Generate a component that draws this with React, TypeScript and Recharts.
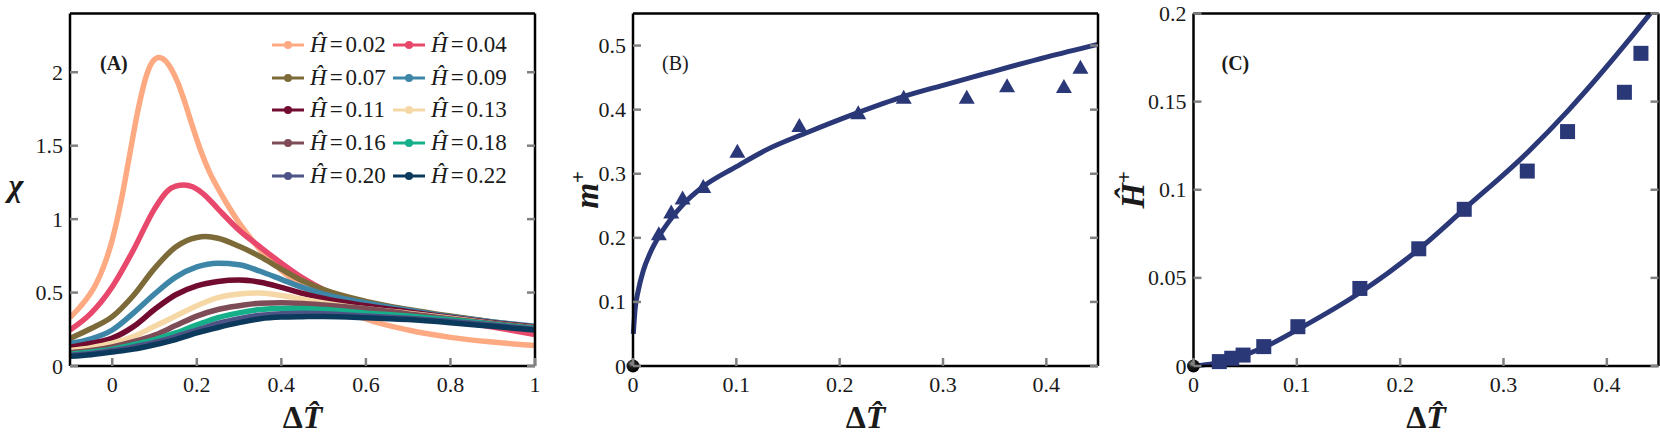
import React from 'react';
import { LineChart, ComposedChart, Line, Scatter, XAxis, YAxis, Legend, Label } from 'recharts';

const FONT = '"Liberation Serif","Times New Roman",serif';
const INK = '#1a1a1a';
const TICKC = '#808080';
const NAVY = '#2b3878';

// ---------- Panel A : chi vs dT for several H ----------
const hLabels = ['0.02', '0.04', '0.07', '0.09', '0.11', '0.13', '0.16', '0.18', '0.20', '0.22'];
const hColors = ['#fdaa83', '#e8486b', '#7c6a38', '#3d86a8', '#710b30', '#f5d8a6', '#7d4c56', '#15b08a', '#4d5485', '#0c3a5d'];

const dT02 = [-0.1, -0.08, -0.06, -0.04, -0.02, 0, 0.02, 0.04, 0.06, 0.08, 0.095, 0.11, 0.125, 0.14, 0.155, 0.17, 0.19, 0.21, 0.23, 0.25, 0.27, 0.3, 0.33, 0.36, 0.4, 0.45, 0.5, 0.55, 0.6, 0.7, 0.8, 0.9, 1.0];
const chi02 = [0.33, 0.39, 0.46, 0.55, 0.68, 0.86, 1.11, 1.42, 1.73, 1.97, 2.07, 2.1, 2.08, 2.02, 1.93, 1.81, 1.63, 1.46, 1.32, 1.21, 1.11, 0.975, 0.86, 0.76, 0.65, 0.54, 0.45, 0.38, 0.32, 0.245, 0.195, 0.163, 0.14];
const dT04 = [-0.1, -0.05, 0, 0.05, 0.1, 0.13, 0.15, 0.17, 0.19, 0.22, 0.25, 0.3, 0.35, 0.4, 0.45, 0.5, 0.6, 0.7, 0.8, 0.9, 1.0];
const chi04 = [0.245, 0.36, 0.54, 0.79, 1.07, 1.19, 1.225, 1.233, 1.22, 1.16, 1.07, 0.925, 0.81, 0.7, 0.6, 0.52, 0.42, 0.365, 0.315, 0.265, 0.215];
const dT07 = [-0.1, -0.05, 0, 0.05, 0.1, 0.15, 0.2, 0.22, 0.25, 0.3, 0.35, 0.4, 0.45, 0.5, 0.6, 0.7, 0.8, 0.9, 1.0];
const chi07 = [0.188, 0.255, 0.336, 0.48, 0.665, 0.81, 0.875, 0.881, 0.87, 0.815, 0.745, 0.66, 0.58, 0.52, 0.44, 0.385, 0.34, 0.3, 0.265];
const dTGrid = [-0.1, -0.05, 0, 0.05, 0.1, 0.15, 0.2, 0.25, 0.3, 0.35, 0.4, 0.45, 0.5, 0.6, 0.7, 0.8, 0.9, 1.0];
const chi09 = [0.154, 0.185, 0.245, 0.36, 0.49, 0.605, 0.675, 0.7, 0.69, 0.645, 0.59, 0.535, 0.49, 0.43, 0.38, 0.335, 0.3, 0.27];
const chi11 = [0.127, 0.155, 0.19, 0.268, 0.385, 0.485, 0.545, 0.575, 0.585, 0.57, 0.535, 0.495, 0.46, 0.41, 0.37, 0.33, 0.295, 0.265];
const chi13 = [0.105, 0.125, 0.155, 0.2, 0.27, 0.34, 0.41, 0.465, 0.49, 0.497, 0.48, 0.455, 0.43, 0.39, 0.36, 0.325, 0.29, 0.26];
const chi16 = [0.09, 0.105, 0.13, 0.165, 0.21, 0.275, 0.34, 0.385, 0.41, 0.428, 0.43, 0.425, 0.415, 0.39, 0.355, 0.32, 0.29, 0.26];
const chi18 = [0.08, 0.095, 0.115, 0.145, 0.18, 0.225, 0.28, 0.33, 0.362, 0.384, 0.392, 0.392, 0.385, 0.36, 0.34, 0.315, 0.285, 0.255];
const chi20 = [0.073, 0.085, 0.105, 0.13, 0.16, 0.2, 0.245, 0.29, 0.322, 0.345, 0.355, 0.36, 0.355, 0.34, 0.325, 0.305, 0.28, 0.25];
const chi22 = [0.066, 0.077, 0.095, 0.115, 0.145, 0.18, 0.225, 0.262, 0.295, 0.322, 0.333, 0.336, 0.337, 0.329, 0.316, 0.295, 0.27, 0.245];

const xTicksA = [0, 0.2, 0.4, 0.6, 0.8, 1];
const yTicksA = [0, 0.5, 1, 1.5, 2];

// ---------- Panel B : m+ ----------
const bLineX = [0.0003, 0.002, 0.005, 0.01, 0.0165, 0.025, 0.036, 0.049, 0.068, 0.1, 0.13, 0.168, 0.217, 0.261, 0.3, 0.336, 0.4, 0.45];
const bLineY = [0.05, 0.088, 0.117, 0.149, 0.176, 0.202, 0.228, 0.253, 0.28, 0.311, 0.338, 0.364, 0.395, 0.42, 0.438, 0.454, 0.482, 0.502];
const simX = [0.025, 0.037, 0.048, 0.068, 0.101, 0.161, 0.218, 0.262, 0.323, 0.362, 0.417, 0.433];
const bTriY = [0.207, 0.241, 0.263, 0.281, 0.336, 0.376, 0.396, 0.42, 0.42, 0.438, 0.437, 0.467];
const xTicksBC = [0, 0.1, 0.2, 0.3, 0.4];
const yTicksB = [0, 0.1, 0.2, 0.3, 0.4, 0.5];

// ---------- Panel C : H+ ----------
const cLineX = [0, 0.02, 0.04, 0.068, 0.103, 0.162, 0.219, 0.262, 0.324, 0.363, 0.4186, 0.442];
const cLineY = [0, 0.0015, 0.0045, 0.0105, 0.0214, 0.042, 0.0667, 0.089, 0.1216, 0.1452, 0.183, 0.2];
const cSqY = [0.0025, 0.0044, 0.0062, 0.011, 0.0223, 0.044, 0.0665, 0.0889, 0.1106, 0.133, 0.1553, 0.1774];
const yTicksC = [0, 0.05, 0.1, 0.15, 0.2];

const originX = [0];
const originY = [0];

type Pt = { x: number; y: number };
const zip = (xs: number[], ys: number[]): Pt[] => xs.map((x, i) => ({ x, y: ys[i] }));

const chiX = [dT02, dT04, dT07, dTGrid, dTGrid, dTGrid, dTGrid, dTGrid, dTGrid, dTGrid];
const chiY = [chi02, chi04, chi07, chi09, chi11, chi13, chi16, chi18, chi20, chi22];
const seriesA = hLabels.map((h, i) => ({ h, color: hColors[i], data: zip(chiX[i], chiY[i]) }));

const fmt = (v: number) => String(v);
const TL = 8;

const BottomTick = (props: any) => {
  const { x, y, payload } = props;
  return (
    <g>
      <line x1={x} x2={x} y1={y} y2={y - TL} stroke={TICKC} strokeWidth={2.5} />
      <text x={x} y={y + 26} textAnchor="middle" fontFamily={FONT} fontSize={22} fill={INK}>{fmt(payload.value)}</text>
    </g>
  );
};
const TopTick = (props: any) => {
  const { x, y } = props;
  return <line x1={x} x2={x} y1={y} y2={y + TL} stroke={TICKC} strokeWidth={2.5} />;
};
const LeftTick = (props: any) => {
  const { x, y, payload } = props;
  return (
    <g>
      <line x1={x} x2={x + TL} y1={y} y2={y} stroke={TICKC} strokeWidth={2.5} />
      <text x={x - 7} y={y + 7.5} textAnchor="end" fontFamily={FONT} fontSize={22} fill={INK}>{fmt(payload.value)}</text>
    </g>
  );
};
const RightTick = (props: any) => {
  const { x, y } = props;
  return <line x1={x} x2={x - TL} y1={y} y2={y} stroke={TICKC} strokeWidth={2.5} />;
};

const XTitle = (props: any) => {
  const vb = props.viewBox;
  return (
    <text x={vb.x + vb.width / 2} y={vb.y + 62} textAnchor="middle" fontFamily={FONT} fontSize={32} fontWeight="bold" fill={INK}>
      <tspan>Δ</tspan><tspan fontStyle="italic">T̂</tspan>
    </text>
  );
};

const ChiTitle = (props: any) => {
  const vb = props.viewBox;
  const tx = vb.x + vb.width - 54;
  const ty = vb.y + vb.height / 2 + 6;
  return (
    <text x={tx} y={ty} textAnchor="middle" fontFamily={FONT} fontSize={32} fontWeight="bold" fontStyle="italic" fill={INK}>χ</text>
  );
};

const makeYTitle = (kind: 'm' | 'h', dx: number) => (props: any) => {
  const vb = props.viewBox;
  const tx = vb.x + vb.width - dx;
  const ty = vb.y + vb.height / 2;
  return (
    <text x={tx} y={ty} transform={`rotate(-90, ${tx}, ${ty})`} textAnchor="middle" fontFamily={FONT} fontSize={33} fontWeight="bold" fill={INK}>
      {kind === 'm' && (<><tspan fontStyle="italic">m</tspan><tspan dy={-13} fontSize={21}>+</tspan></>)}
      {kind === 'h' && (<><tspan fontStyle="italic">Ĥ</tspan><tspan dy={-13} fontSize={21}>+</tspan></>)}
    </text>
  );
};

const makeTag = (tag: string, bold: boolean, dx: number) => (props: any) => {
  const vb = props.viewBox;
  return (
    <text x={vb.x + vb.width + dx} y={vb.y + 56} fontFamily={FONT} fontSize={20} fontWeight={bold ? 'bold' : 'normal'} fill={INK}>{tag}</text>
  );
};

const axisLine = { stroke: '#000', strokeWidth: 2.5 };

function frameAxes(o: {
  xDomain: [number, number]; xTicks: number[]; yDomain: [number, number]; yTicks: number[];
  clip: boolean; yTitle: any; tag: any;
}) {
  return [
    <XAxis key="xb" xAxisId={0} type="number" dataKey="x" domain={o.xDomain} ticks={o.xTicks} interval={0} height={1}
      tickSize={0} tickMargin={0} axisLine={axisLine} tickLine={false} tick={BottomTick} allowDataOverflow={o.clip}>
      <Label content={XTitle} />
    </XAxis>,
    <XAxis key="xt" xAxisId="top" orientation="top" type="number" domain={o.xDomain} ticks={o.xTicks} interval={0} height={1}
      tickSize={0} tickMargin={0} axisLine={axisLine} tickLine={false} tick={TopTick} allowDataOverflow />,
    <YAxis key="yl" yAxisId={0} type="number" dataKey="y" domain={o.yDomain} ticks={o.yTicks} interval={0} width={1}
      tickSize={0} tickMargin={0} axisLine={axisLine} tickLine={false} tick={LeftTick} allowDataOverflow={o.clip}>
      <Label content={o.yTitle} />
      <Label content={o.tag} />
    </YAxis>,
    <YAxis key="yr" yAxisId="right" orientation="right" type="number" domain={o.yDomain} ticks={o.yTicks} interval={0} width={1}
      tickSize={0} tickMargin={0} axisLine={axisLine} tickLine={false} tick={RightTick} allowDataOverflow />,
  ];
}

const LegendBox = (props: any) => {
  const payload = props.payload || [];
  return (
    <div style={{ display: 'grid', gridTemplateColumns: '121px 121px', gridAutoRows: '32.6px', fontFamily: FONT, fontSize: 23, color: INK }}>
      {payload.map((p: any) => (
        <div key={p.value} style={{ display: 'flex', alignItems: 'center', whiteSpace: 'nowrap' }}>
          <svg width={38} height={12} style={{ flex: 'none' }}>
            <line x1={0} x2={32} y1={6} y2={6} stroke={p.color} strokeWidth={3} />
            <circle cx={16} cy={6} r={4} fill={p.color} />
          </svg>
          <span><i>Ĥ</i><span style={{ margin: '0 3px' }}>=</span>{p.value}</span>
        </div>
      ))}
    </div>
  );
};

const Triangle = (props: any) => {
  const { cx, cy } = props;
  return <polygon points={`${cx},${cy - 7} ${cx - 8},${cy + 7} ${cx + 8},${cy + 7}`} fill={NAVY} />;
};
const Square = (props: any) => {
  const { cx, cy } = props;
  return <rect x={cx - 7.5} y={cy - 7.5} width={15} height={15} fill={NAVY} />;
};
const makeBall = (id: string) => (props: any) => {
  const { cx, cy } = props;
  return (
    <g>
      <defs>
        <radialGradient id={id} cx="0.38" cy="0.32" r="0.7">
          <stop offset="0" stopColor="#9a9a9a" />
          <stop offset="0.4" stopColor="#1c1c1c" />
          <stop offset="1" stopColor="#000" />
        </radialGradient>
      </defs>
      <circle cx={cx} cy={cy} r={6.5} fill={`url(#${id})`} />
    </g>
  );
};

export default function App() {
  return (
    <div style={{ position: 'absolute', left: 0, top: 0, width: 1660, height: 436, background: '#fff' }}>
      <div style={{ position: 'absolute', left: 0, top: 0 }}>
        <LineChart width={560} height={436} margin={{ top: 12.5, right: 24, bottom: 69, left: 69 }}>
          {frameAxes({ xDomain: [-0.1, 1], xTicks: xTicksA, yDomain: [0, 2.4], yTicks: yTicksA, clip: true,
            yTitle: ChiTitle, tag: makeTag('(A)', true, 30) })}
          {seriesA.map((s) => (
            <Line key={s.h} name={s.h} data={s.data} dataKey="y" type="monotone" stroke={s.color} strokeWidth={5.5}
              dot={false} activeDot={false} isAnimationActive={false} />
          ))}
          <Legend layout="horizontal" verticalAlign="middle" align="center" content={LegendBox}
            wrapperStyle={{ top: 29, left: 272, width: 250, height: 165 }} />
        </LineChart>
      </div>
      <div style={{ position: 'absolute', left: 540, top: 0 }}>
        <ComposedChart width={580} height={436} margin={{ top: 12.5, right: 21, bottom: 69, left: 92 }}>
          {frameAxes({ xDomain: [0, 0.45], xTicks: xTicksBC, yDomain: [0, 0.55], yTicks: yTicksB, clip: false,
            yTitle: makeYTitle('m', 35), tag: makeTag('(B)', false, 29) })}
          <Line data={zip(bLineX, bLineY)} dataKey="y" type="monotone" stroke={NAVY} strokeWidth={5} dot={false} activeDot={false} isAnimationActive={false} />
          <Scatter data={zip(simX, bTriY)} dataKey="y" shape={Triangle} isAnimationActive={false} />
          <Scatter data={zip(originX, originY)} dataKey="y" shape={makeBall('ballB')} isAnimationActive={false} />
        </ComposedChart>
      </div>
      <div style={{ position: 'absolute', left: 1100, top: 0 }}>
        <ComposedChart width={560} height={436} margin={{ top: 12.5, right: 0.5, bottom: 69, left: 92.5 }}>
          {frameAxes({ xDomain: [0, 0.45], xTicks: xTicksBC, yDomain: [0, 0.2], yTicks: yTicksC, clip: false,
            yTitle: makeYTitle('h', 50), tag: makeTag('(C)', true, 28) })}
          <Line data={zip(cLineX, cLineY)} dataKey="y" type="monotone" stroke={NAVY} strokeWidth={5} dot={false} activeDot={false} isAnimationActive={false} />
          <Scatter data={zip(simX, cSqY)} dataKey="y" shape={Square} isAnimationActive={false} />
          <Scatter data={zip(originX, originY)} dataKey="y" shape={makeBall('ballC')} isAnimationActive={false} />
        </ComposedChart>
      </div>
    </div>
  );
}
